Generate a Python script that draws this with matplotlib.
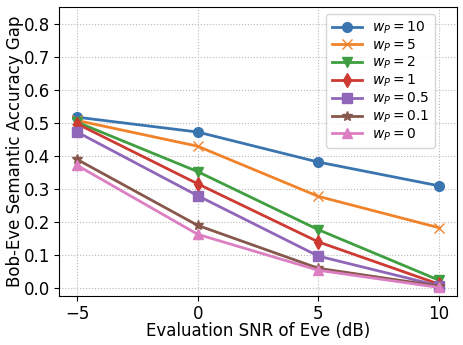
import matplotlib.pyplot as plt

snr = [-5, 0, 5, 10]
weights = ["10", "5", "2", "1", "0.5", "0.1", "0"]
gap_10 = [0.518, 0.473, 0.382, 0.310]
gap_5 = [0.508, 0.430, 0.278, 0.183]
gap_2 = [0.503, 0.353, 0.177, 0.024]
gap_1 = [0.498, 0.316, 0.140, 0.012]
gap_05 = [0.473, 0.280, 0.097, 0.007]
gap_01 = [0.390, 0.190, 0.060, 0.006]
gap_0 = [0.372, 0.163, 0.054, 0.002]

series = [gap_10, gap_5, gap_2, gap_1, gap_05, gap_01, gap_0]
colors = ["#3a75b0", "#f0832a", "#3f9e3f", "#cc3a32", "#9066b8", "#87574b", "#dc7fc2"]
markers = ["o", "x", "v", "d", "s", "*", "^"]

fig = plt.figure(figsize=(4.64, 3.45), dpi=100)
ax = fig.add_axes([59/464, 1 - 296/345, 398/464, 289/345])

for w, y, c, m in zip(weights, series, colors, markers):
    ax.plot(snr, y, color=c, marker=m, markersize=7, linewidth=2, label=r"$w_P = %s$" % w)

ax.set_xlim(-5.75, 10.75)
ax.set_ylim(-0.024, 0.852)
ax.set_xticks([-5, 0, 5, 10])
ax.set_yticks([0.0, 0.1, 0.2, 0.3, 0.4, 0.5, 0.6, 0.7, 0.8])
ax.tick_params(labelsize=12, length=3.5, pad=3)
ax.set_xlabel("Evaluation SNR of Eve (dB)", fontsize=12, labelpad=-1)
ax.set_ylabel("Bob-Eve Semantic Accuracy Gap", fontsize=12, labelpad=0)
ax.grid(True, linestyle=":", color="#b8b8b8", linewidth=0.8)
ax.legend(loc="upper right", bbox_to_anchor=(0.945, 0.976), borderaxespad=0,
          fontsize=10, handlelength=2.2, labelspacing=0.1, borderpad=0.4,
          handletextpad=0.7)

fig.savefig("out.png", dpi=100)
